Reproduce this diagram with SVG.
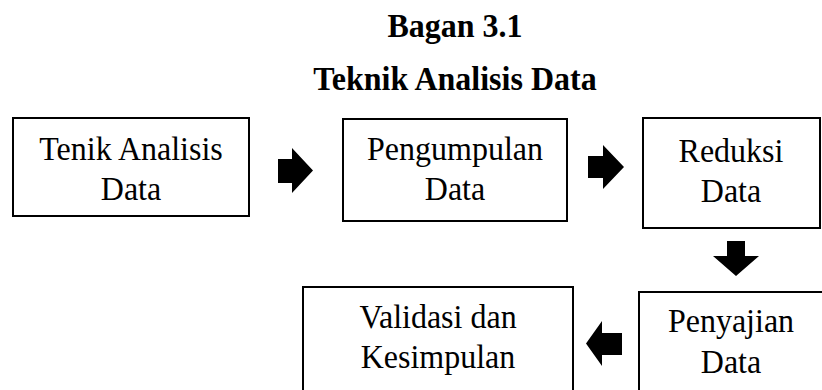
<svg xmlns="http://www.w3.org/2000/svg" width="822" height="390" viewBox="0 0 822 390">
<style>
.box{fill:#fff;stroke:#000;stroke-width:2}
.t{font-family:'Liberation Serif','Times New Roman',Times,serif;font-size:32px;fill:#000;text-anchor:middle}
.h{font-family:'Liberation Serif','Times New Roman',Times,serif;font-size:32px;font-weight:bold;fill:#000;text-anchor:middle}
.arr{fill:#000}
</style>
<rect width="822" height="390" fill="#fff"/>
<text class="h" transform="translate(455,37) scale(1,1.08)">Bagan 3.1</text>
<text class="h" transform="translate(455,90) scale(1,1.08)">Teknik Analisis Data</text>
<g id="n1"><rect class="box" x="13" y="118" width="236" height="98"/><text class="t" transform="translate(131,160) scale(1,1.08)">Tenik Analisis</text><text class="t" transform="translate(131,200) scale(1,1.08)">Data</text></g>
<g id="n2"><rect class="box" x="343" y="119" width="224" height="102"/><text class="t" transform="translate(455,160) scale(1,1.08)">Pengumpulan</text><text class="t" transform="translate(455,200) scale(1,1.08)">Data</text></g>
<g id="n3"><rect class="box" x="643" y="118" width="177" height="110"/><text class="t" transform="translate(731,162) scale(1,1.08)">Reduksi</text><text class="t" transform="translate(731,202) scale(1,1.08)">Data</text></g>
<g id="n4"><rect class="box" x="639" y="292" width="190" height="110"/><text class="t" transform="translate(731,332) scale(1,1.08)">Penyajian</text><text class="t" transform="translate(731,373) scale(1,1.08)">Data</text></g>
<g id="n5"><rect class="box" x="303" y="287" width="270" height="115"/><text class="t" transform="translate(438,328) scale(1,1.08)">Validasi dan</text><text class="t" transform="translate(438,368) scale(1,1.08)">Kesimpulan</text></g>
<g id="connectors">
<polygon class="arr" points="278,159 292,159 292,148 313,170.5 292,193 292,183 278,183"/>
<polygon class="arr" points="588,156 603,156 603,145 624,167 603,189 603,178 588,178"/>
<polygon class="arr" points="727,241 745,241 745,256 759,256 736,276 713,256 727,256"/>
<polygon class="arr" points="622,333 602,333 602,321 586,343.5 602,366 602,355 622,355"/>
</g>
</svg>
